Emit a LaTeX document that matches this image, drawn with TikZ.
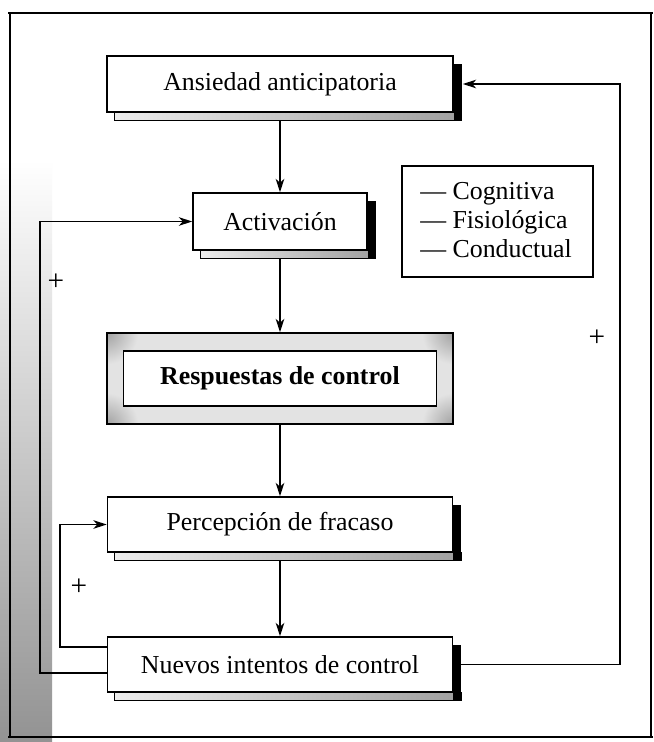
\documentclass[tikz,border=0pt]{standalone}
\usepackage{fontspec}
\setmainfont{Liberation Serif}
\usetikzlibrary{arrows.meta,calc}
\pgfdeclarelayer{bg}
\pgfdeclarelayer{sh}
\pgfsetlayers{bg,sh,main}
\begin{document}
\begin{tikzpicture}[x=0.75pt,y=-0.75pt,
  every node/.style={font=\fontsize{19.4}{23}\selectfont},
  box/.style={draw, line width=1.3pt, fill=white, inner sep=0pt, align=center},
  conn/.style={line width=1pt, -{Stealth[length=10pt,width=6.5pt,inset=3pt]}},
  frame/.style={line width=1.8pt},
  plus/.style={font=\fontsize{22}{24}\selectfont, inner sep=0pt}]
\useasboundingbox (0,0) rectangle (653,742);

% boxes
\node[box, minimum width=259.5pt, minimum height=42pt] (ans) at (280,84) {Ansiedad anticipatoria};
\node[box, minimum width=130.5pt, minimum height=42.75pt] (act) at (280,221.5) {Activación};
\node[draw, line width=1.3pt, inner sep=0pt, minimum width=259.5pt, minimum height=68.25pt] (resp) at (280,378.5) {};
\node[box, minimum width=234.75pt, minimum height=41.25pt, font=\fontsize{19.4}{23}\selectfont\bfseries] (respin) at (280,378.5) {Respuestas de control};
\node[box, minimum width=258.75pt, minimum height=41.25pt] (per) at (280,524.5) {Percepción de fracaso};
\node[box, minimum width=258.75pt, minimum height=41.25pt] (nue) at (280,664.5) {Nuevos intentos de control};

% legend
\node[draw, line width=1pt, inner sep=0pt, minimum width=143.25pt, minimum height=83.25pt] (leg) at (497.5,221.5) {};
\node[anchor=west, align=left, inner sep=0pt, font=\fontsize{19.4}{21.8}\selectfont] (legtxt) at (420,220) {— Cognitiva\\— Fisiológica\\— Conductual};

% plus signs
\node[plus] (p1) at (56,282) {+};
\node[plus] (p2) at (597,338) {+};
\node[plus] (p3) at (79,587) {+};

% helper coordinates
\coordinate (rc) at (620,400);
\coordinate (lo) at (40,400);
\coordinate (li) at (60,600);

% shadows
\def\shadowof#1{%
  \shade[left color=gray!15, right color=gray!75, draw=black, line width=0.6pt]
    ($(#1.south west)+(8,0)$) rectangle ($(#1.south east)+(8,8)$);
  \fill[black] ($(#1.north east)+(0,9)$) rectangle ($(#1.south east)+(8,8)$);
}
\begin{pgfonlayer}{sh}
  \shadowof{ans}
  \shadowof{act}
  \shadowof{per}
  \shadowof{nue}
  % grainy band of the control box, darker at the corners
  \begin{scope}
    \clip (resp.north west) rectangle (resp.south east);
    \fill[gray!22] (resp.north west) rectangle (resp.south east);
    \foreach \c in {north west, north east, south west, south east}
      \shade[inner color=gray!75, outer color=gray!22] (resp.\c) circle (32);
  \end{scope}
\end{pgfonlayer}

\begin{pgfonlayer}{bg}
  \fill[white] (0,0) rectangle (653,742);
  \shade[top color=white, middle color=gray!50, bottom color=gray!85] (0,160) rectangle (52,742);
  % frame
  \draw[frame] (8,13) -- (653,13);
  \draw[frame] (10,13) -- (10,738);
  \draw[frame] (8,737) -- (653,737);
  \draw[line width=1pt] (651,13) -- (651,737);
  % main flow
  \draw[conn] (ans.south) -- (act.north);
  \draw[conn] (act.south) -- (resp.north);
  \draw[conn] (resp.south) -- (per.north);
  \draw[conn] (per.south) -- (nue.north);
  % feedback loops
  \draw[conn] (nue.east) -- (nue.east -| rc) |- ($(ans.east)+(9,0)$);
  \draw[conn] ($(nue.west)+(0,8.5)$) -| (lo |- act.west) -- (act.west);
  \draw[conn] ($(nue.west)+(0,-17.5)$) -| (li |- per.west) -- (per.west);
\end{pgfonlayer}
\end{tikzpicture}
\end{document}
